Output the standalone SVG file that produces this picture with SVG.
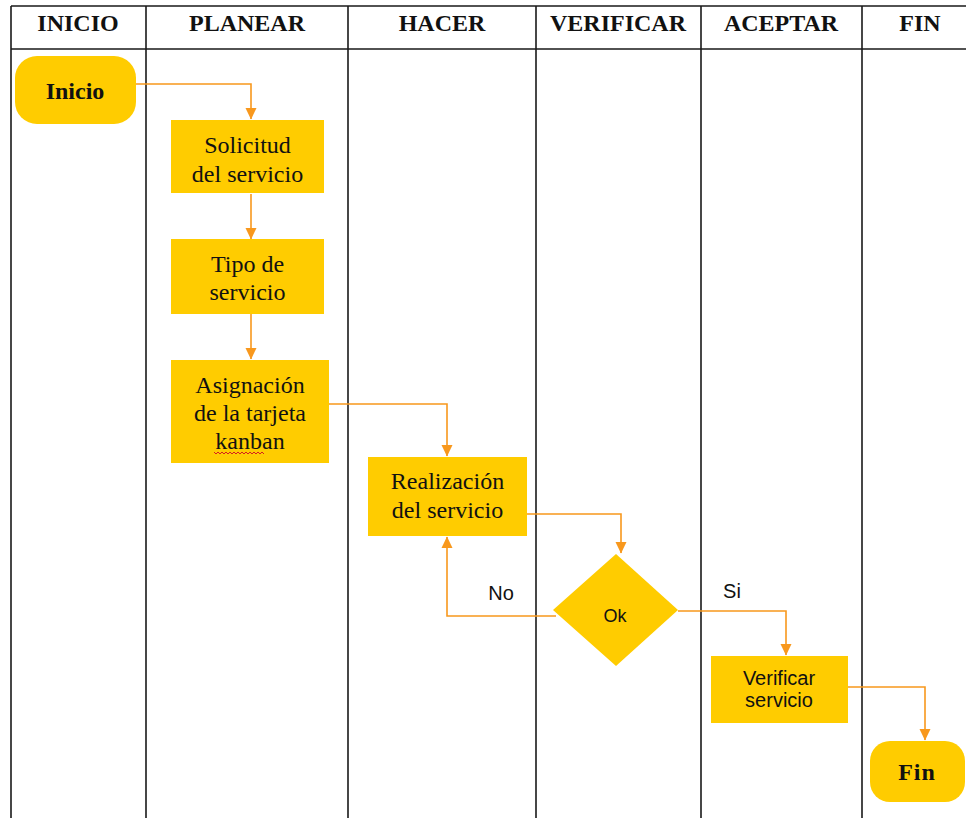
<svg xmlns="http://www.w3.org/2000/svg" width="966" height="818" viewBox="0 0 966 818">
  <style>
    .grid { stroke: #1a1a1a; stroke-width: 1.6; fill: none; }
    .head { font-family: "Liberation Serif", "Times New Roman", serif; font-weight: bold; font-size: 24px; fill: #111; text-anchor: middle; }
    .box { fill: #FFCC00; }
    .serif { font-family: "Liberation Serif", "Times New Roman", serif; font-size: 24px; fill: #111; text-anchor: middle; }
    .serifb { font-family: "Liberation Serif", "Times New Roman", serif; font-weight: bold; font-size: 24px; fill: #111; text-anchor: middle; }
    .sans { font-family: "Liberation Sans", Arial, sans-serif; font-size: 20px; fill: #111; text-anchor: middle; }
    .link { stroke: #F8981D; stroke-width: 1.6; fill: none; marker-end: url(#arrow); }
  </style>
  <defs>
    <marker id="arrow" markerUnits="userSpaceOnUse" markerWidth="12" markerHeight="12" viewBox="0 0 12 12" refX="11" refY="6" orient="auto">
      <path d="M0,0.5 L11.5,6 L0,11.5 Z" fill="#F8981D"/>
    </marker>
  </defs>

  <rect width="966" height="818" fill="#ffffff"/>

  <!-- swimlane table -->
  <g id="lanes">
    <path class="grid" d="M11,6 H966 M11,49 H966 M11,6 V818 M146,6 V818 M348,6 V818 M536,6 V818 M701,6 V818 M862,6 V818"/>
    <text class="head" x="78" y="31">INICIO</text>
    <text class="head" x="247" y="31">PLANEAR</text>
    <text class="head" x="442" y="31">HACER</text>
    <text class="head" x="618" y="31">VERIFICAR</text>
    <text class="head" x="781" y="31">ACEPTAR</text>
    <text class="head" x="920" y="31">FIN</text>
  </g>

  <!-- connectors -->
  <g id="connectors">
    <path class="link" d="M136,84 H251 V119"/>
    <path class="link" d="M251,194 V239"/>
    <path class="link" d="M251,314 V359"/>
    <path class="link" d="M329,404 H447 V456"/>
    <path class="link" d="M527,514 H621 V553"/>
    <path class="link" d="M556,616 H447 V537"/>
    <path class="link" d="M678,611 H786 V655"/>
    <path class="link" d="M848,687 H925 V740"/>
    <text class="sans" x="501" y="600">No</text>
    <text class="sans" x="732" y="598">Si</text>
  </g>

  <g id="inicio">
    <rect class="box" x="15" y="56" width="121" height="68" rx="22"/>
    <text class="serifb" x="75" y="99">Inicio</text>
  </g>

  <g id="solicitud">
    <rect class="box" x="171" y="120" width="153" height="73"/>
    <text class="serif" x="247.5" y="153">Solicitud</text>
    <text class="serif" x="247.5" y="182">del servicio</text>
  </g>

  <g id="tipo">
    <rect class="box" x="171" y="239" width="153" height="75"/>
    <text class="serif" x="247.5" y="272">Tipo de</text>
    <text class="serif" x="247.5" y="300">servicio</text>
  </g>

  <g id="asignacion">
    <rect class="box" x="171" y="360" width="158" height="103"/>
    <text class="serif" x="250" y="393">Asignación</text>
    <text class="serif" x="250" y="421">de la tarjeta</text>
    <text class="serif" x="250" y="449">kanban</text>
    <path d="M214,452 l2,2 l2,-2 l2,2 l2,-2 l2,2 l2,-2 l2,2 l2,-2 l2,2 l2,-2 l2,2 l2,-2 l2,2 l2,-2 l2,2 l2,-2 l2,2 l2,-2 l2,2 l2,-2 l2,2 l2,-2 l2,2 l2,-2 l2,2" fill="none" stroke="#d42020" stroke-width="1"/>
  </g>

  <g id="realizacion">
    <rect class="box" x="368" y="457" width="159" height="79"/>
    <text class="serif" x="447.5" y="489">Realización</text>
    <text class="serif" x="447.5" y="518">del servicio</text>
  </g>

  <g id="ok">
    <polygon class="box" points="616,554 678,610 616,666 553,610"/>
    <text class="sans" x="615" y="622" style="font-size:18px">Ok</text>
  </g>

  <g id="verificar">
    <rect class="box" x="711" y="656" width="137" height="67"/>
    <text class="sans" x="779" y="685">Verificar</text>
    <text class="sans" x="779" y="707">servicio</text>
  </g>

  <g id="fin">
    <rect class="box" x="870" y="741" width="95" height="61" rx="20"/>
    <text class="serifb" x="917" y="780" style="letter-spacing:1px">Fin</text>
  </g>
</svg>
